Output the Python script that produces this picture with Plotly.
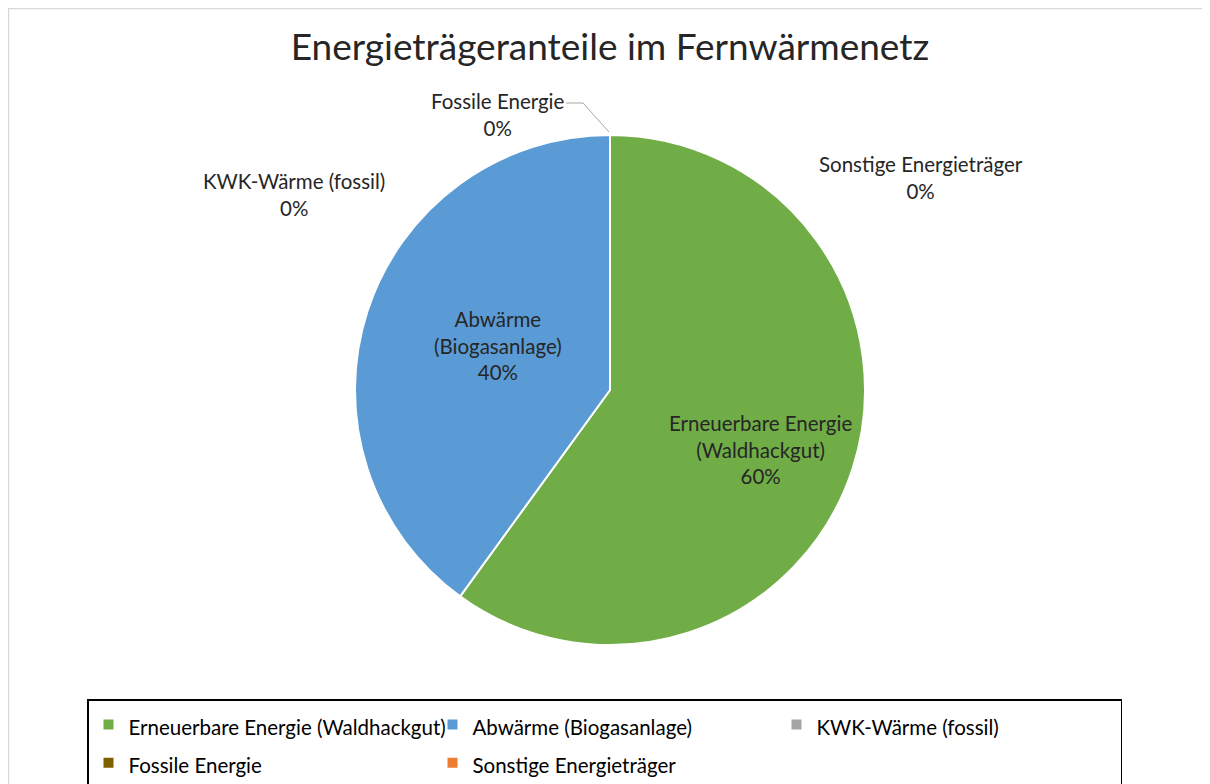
import plotly.graph_objects as go

categories = ["Erneuerbare Energie (Waldhackgut)", "Abwärme (Biogasanlage)",
              "KWK-Wärme (fossil)", "Fossile Energie", "Sonstige Energieträger"]
values = [60, 40, 0, 0, 0]
colors = ["#70AD47", "#5B9BD5", "#A5A5A5", "#7F6000", "#ED7D31"]
label_lines = {"Erneuerbare Energie (Waldhackgut)": "Erneuerbare Energie<br>(Waldhackgut)",
               "Abwärme (Biogasanlage)": "Abwärme<br>(Biogasanlage)",
               "KWK-Wärme (fossil)": "KWK-Wärme (fossil)",
               "Fossile Energie": "Fossile Energie",
               "Sonstige Energieträger": "Sonstige Energieträger"}

# page offset (browser body margin) and target geometry in screenshot pixels
OFF = 8
W, H = 1210, 784
label_pos = {"Erneuerbare Energie (Waldhackgut)": (760, 449),
             "Abwärme (Biogasanlage)": (498, 345),
             "KWK-Wärme (fossil)": (294, 195),
             "Fossile Energie": (498, 114),
             "Sonstige Energieträger": (921, 177)}
cx, cy, r = 610 - OFF, 390 - OFF, 255
FONT = "Lato"
TXT = "#262626"


def px(x):
    return (x - OFF) / W


def py(y):
    return 1 - (y - OFF) / H


legend_names = [f"<span style='font-size:20.5px'>{c}</span>" for c in categories]

fig = go.Figure(go.Pie(
    labels=legend_names, values=values, sort=False, direction="clockwise", rotation=0,
    marker=dict(colors=colors, line=dict(color="white", width=2)),
    textinfo="none",
    domain=dict(x=[(cx - r) / W, (cx + r) / W], y=[1 - (cy + r) / H, 1 - (cy - r) / H]),
    hovertext=categories, hoverinfo="text+percent",
))

total = sum(values)
for name, (x, y) in label_pos.items():
    pct = round(100 * values[categories.index(name)] / total)
    fig.add_annotation(x=px(x), y=py(y), xref="paper", yref="paper", showarrow=False,
                       xanchor="center", yanchor="middle",
                       text=f"{label_lines[name]}<br>{pct}%", align="center",
                       font=dict(family=FONT, size=20.5, color=TXT))

# leader line for Fossile Energie
fig.add_shape(type="path", xref="paper", yref="paper",
              path=f"M {px(566)} {py(103)} L {px(583)} {py(103)} L {px(609)} {py(132)}",
              line=dict(color="#A6A6A6", width=1))

# chart area border
fig.add_shape(type="rect", xref="paper", yref="paper",
              x0=0.5 / W, y0=-0.01, x1=1.01, y1=1 - 0.5 / H,
              line=dict(color="#D9D9D9", width=1.5), fillcolor="rgba(0,0,0,0)", layer="below")

fig.update_layout(
    width=W, height=H,
    margin=dict(l=0, r=0, t=0, b=0),
    paper_bgcolor="white", plot_bgcolor="white",
    title=dict(text="Energieträgeranteile im Fernwärmenetz", x=px(610), xanchor="center",
               y=py(47), yanchor="middle",
               font=dict(family=FONT, size=37, color=TXT)),
    showlegend=True,
    legend=dict(orientation="h", x=px(87), xanchor="left", y=py(699), yanchor="top",
                entrywidth=299, entrywidthmode="pixels",
                bordercolor="black", borderwidth=1.5, bgcolor="white",
                font=dict(family=FONT, size=27, color="black"),
                traceorder="normal"),
)

fig.write_html("out.html")
